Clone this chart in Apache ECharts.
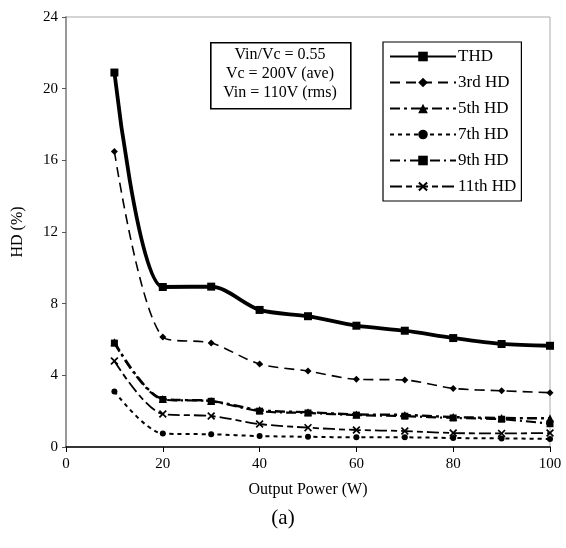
<!DOCTYPE html>
<html>
<head>
<meta charset="utf-8">
<script src="https://cdn.jsdelivr.net/npm/echarts@6/dist/echarts.min.js"></script>
<style>
html,body{margin:0;padding:0;background:#fff;}
#c{width:566px;height:548px;}
</style>
</head>
<body>
<div id="c"></div>
<script>
const powers = [10, 20, 30, 40, 50, 60, 70, 80, 90, 100];
const thd   = [20.9, 8.93, 8.95, 7.65, 7.3, 6.77, 6.49, 6.08, 5.75, 5.65];
const hd3   = [16.5, 6.14, 5.8, 4.63, 4.24, 3.78, 3.74, 3.27, 3.14, 3.03];
const hd5   = [5.85, 2.68, 2.57, 2.06, 1.94, 1.82, 1.79, 1.67, 1.62, 1.6];
const hd7   = [3.1, 0.75, 0.71, 0.61, 0.57, 0.54, 0.54, 0.5, 0.48, 0.45];
const hd9   = [5.8, 2.65, 2.55, 2.0, 1.9, 1.78, 1.72, 1.62, 1.55, 1.3];
const hd11  = [4.8, 1.84, 1.73, 1.28, 1.08, 0.95, 0.89, 0.78, 0.76, 0.78];
const seriesNames = ['THD', '3rd HD', '5th HD', '7th HD', '9th HD', '11th HD'];
const xTicks = [0, 20, 40, 60, 80, 100];
const yTicks = [0, 4, 8, 12, 16, 20, 24];
const noteLines = ['Vin/Vc = 0.55', 'Vc = 200V (ave)', 'Vin = 110V (rms)'];

const FONT = '"Liberation Serif", "DejaVu Serif", serif';
const xMark = 'path://M0,1.5L1.5,0L5,3.5L8.5,0L10,1.5L6.5,5L10,8.5L8.5,10L5,6.5L1.5,10L0,8.5L3.5,5Z';

function pts(arr){ return powers.map((p,i)=>[p, arr[i]]); }

const styles = [
  {data: thd,  width: 3.8, type: 'solid',            symbol: 'rect',     size: 8},
  {data: hd3,  width: 1.6, type: [10, 6],            symbol: 'diamond',  size: 7},
  {data: hd5,  width: 2.4, type: [10, 4, 3, 4],      symbol: 'triangle', size: 8},
  {data: hd7,  width: 2.0, type: [4, 4],             symbol: 'circle',   size: 6},
  {data: hd9,  width: 2.2, type: [10, 4, 2, 4],      symbol: 'rect',     size: 7},
  {data: hd11, width: 1.8, type: [12, 4, 6, 4],      symbol: xMark,      size: 8}
];

const chart = echarts.init(document.getElementById('c'), null, {renderer: 'canvas'});
chart.setOption({
  animation: false,
  backgroundColor: '#fff',
  textStyle: {fontFamily: FONT, color: '#000'},
  grid: {left: 66, right: 16, top: 17, bottom: 101, show: true, borderColor: '#aaa', borderWidth: 1, containLabel: false},
  xAxis: {
    type: 'value', min: xTicks[0], max: xTicks[xTicks.length-1], interval: 20,
    name: 'Output Power (W)', nameLocation: 'middle', nameGap: 35,
    nameTextStyle: {fontFamily: FONT, fontSize: 16, color: '#000'},
    axisLine: {show: true, onZero: false, lineStyle: {color: '#000', width: 1.5}},
    axisTick: {show: true, inside: false, length: 5, lineStyle: {color: '#000', width: 1}},
    axisLabel: {fontFamily: FONT, fontSize: 15, color: '#000', margin: 10},
    splitLine: {show: false}
  },
  yAxis: {
    type: 'value', min: yTicks[0], max: yTicks[yTicks.length-1], interval: 4,
    name: 'HD (%)', nameLocation: 'middle', nameGap: 40, nameRotate: 90,
    nameTextStyle: {fontFamily: FONT, fontSize: 16, color: '#000'},
    axisLine: {show: true, lineStyle: {color: '#999', width: 2}},
    axisTick: {show: true, inside: false, length: 4, lineStyle: {color: '#555', width: 1}},
    axisLabel: {fontFamily: FONT, fontSize: 15, color: '#000', margin: 8},
    splitLine: {show: false}
  },
  legend: {
    orient: 'vertical', left: 383, top: 42,
    padding: [6, 5, 6, 6],
    borderColor: '#000', borderWidth: 1.2, backgroundColor: '#fff',
    itemWidth: 66, itemHeight: 12, itemGap: 9,
    textStyle: {fontFamily: FONT, fontSize: 17, color: '#000', padding: [0,0,0,-3]},
    data: seriesNames
  },
  graphic: [
    {type: 'rect', left: 210, top: 42, shape: {width: 140, height: 66}, style: {fill: '#fff', stroke: '#000', lineWidth: 1.6}, z: 10},
    {type: 'text', x: 280, y: 55, style: {text: noteLines[0], font: '16px ' + FONT, fill: '#000', align: 'center', verticalAlign: 'middle'}, z: 11},
    {type: 'text', x: 280, y: 74, style: {text: noteLines[1], font: '16px ' + FONT, fill: '#000', align: 'center', verticalAlign: 'middle'}, z: 11},
    {type: 'text', x: 280, y: 93, style: {text: noteLines[2], font: '16px ' + FONT, fill: '#000', align: 'center', verticalAlign: 'middle'}, z: 11},
    {type: 'text', x: 283, y: 518, style: {text: '(a)', font: '21px ' + FONT, fill: '#000', align: 'center', verticalAlign: 'middle'}}
  ],
  series: styles.map((s, i) => ({
    name: seriesNames[i],
    type: 'line',
    data: pts(s.data),
    smooth: 0.3,
    symbol: s.symbol,
    symbolSize: s.size,
    showSymbol: true,
    itemStyle: {color: '#000', borderWidth: 0},
    lineStyle: {color: '#000', width: s.width, type: s.type},
    z: 6 - i
  }))
});
</script>
</body>
</html>
